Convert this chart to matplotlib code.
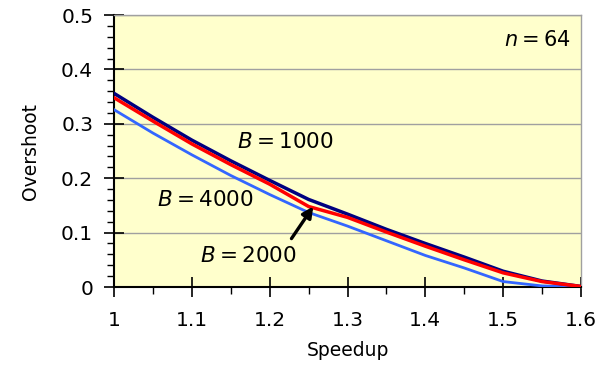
import matplotlib
matplotlib.use('Agg')
import matplotlib.pyplot as plt
from matplotlib.ticker import MultipleLocator
import numpy as np

# speedup grid and overshoot curves (n=64)
speedup = [1.0, 1.05, 1.1, 1.15, 1.2, 1.25, 1.3, 1.35, 1.4, 1.45, 1.5, 1.55, 1.6]
b1000 = [0.356, 0.312, 0.270, 0.232, 0.196, 0.161, 0.134, 0.106, 0.080, 0.055, 0.029, 0.011, 0.001]
b2000 = [0.348, 0.305, 0.263, 0.225, 0.189, 0.148, 0.128, 0.101, 0.075, 0.050, 0.026, 0.010, 0.001]
b4000 = [0.326, 0.283, 0.243, 0.205, 0.170, 0.137, 0.112, 0.085, 0.058, 0.035, 0.010, 0.002, 0.000]

plt.rcParams['font.family'] = ['DejaVu Sans']
plt.rcParams['mathtext.fontset'] = 'dejavusans'

fig = plt.figure(figsize=(6.02, 3.68), dpi=100)
ax = fig.add_axes([0.1894, 0.2201, 0.7757, 0.7391])
ax.set_facecolor('#FFFFCC')

ax.plot(speedup, b4000, color='#3366FF', lw=2.0, zorder=3)
ax.plot(speedup, b1000, color='#000080', lw=2.5, zorder=3)
ax.plot(speedup, b2000, color='#FF0000', lw=2.5, zorder=4)

ax.set_xlim(1, 1.6)
ax.set_ylim(0, 0.5)
ax.xaxis.set_major_locator(MultipleLocator(0.1))
ax.xaxis.set_minor_locator(MultipleLocator(0.05))
ax.yaxis.set_major_locator(MultipleLocator(0.1))
ax.yaxis.set_minor_locator(MultipleLocator(0.02))
ax.xaxis.set_major_formatter(lambda v, p: ('%g' % round(v, 2)))
ax.yaxis.set_major_formatter(lambda v, p: ('%g' % round(v, 2)))

ax.grid(axis='y', which='major', color='#A0A0A0', lw=1.0, zorder=1)
ax.set_axisbelow(True)

for s in ['top', 'right']:
    ax.spines[s].set_color('#A0A0A0')
    ax.spines[s].set_linewidth(1.0)
for s in ['left', 'bottom']:
    ax.spines[s].set_color('black')
    ax.spines[s].set_linewidth(1.5)

ax.tick_params(which='major', direction='inout', length=14, width=1.2, labelsize=14.5)
ax.tick_params(which='minor', direction='out', length=5, width=1.0)
ax.tick_params(axis='y', which='major', pad=8)
ax.tick_params(axis='x', which='major', pad=10)

ax.set_xlabel('Speedup', fontsize=13.5, labelpad=8)
ax.set_ylabel('Overshoot', fontsize=13.5, labelpad=15)

ts = '\u2009'
ax.text(1.158, 0.266, r'$B$' + ts + '=' + ts + '1000', fontsize=15.5, va='center', ha='left')
ax.text(1.055, 0.160, r'$B$' + ts + '=' + ts + '4000', fontsize=15.5, va='center', ha='left')
ax.text(1.110, 0.057, r'$B$' + ts + '=' + ts + '2000', fontsize=15.5, va='center', ha='left')
ax.text(1.587, 0.454, r'$n$' + ts + '=' + ts + '64', fontsize=15, va='center', ha='right')

ax.annotate('', xy=(1.256, 0.148), xytext=(1.228, 0.089),
            arrowprops=dict(arrowstyle='-|>', color='black', lw=2.4,
                            mutation_scale=16, shrinkA=0, shrinkB=0), zorder=5)

fig.savefig('out.png', dpi=100)
